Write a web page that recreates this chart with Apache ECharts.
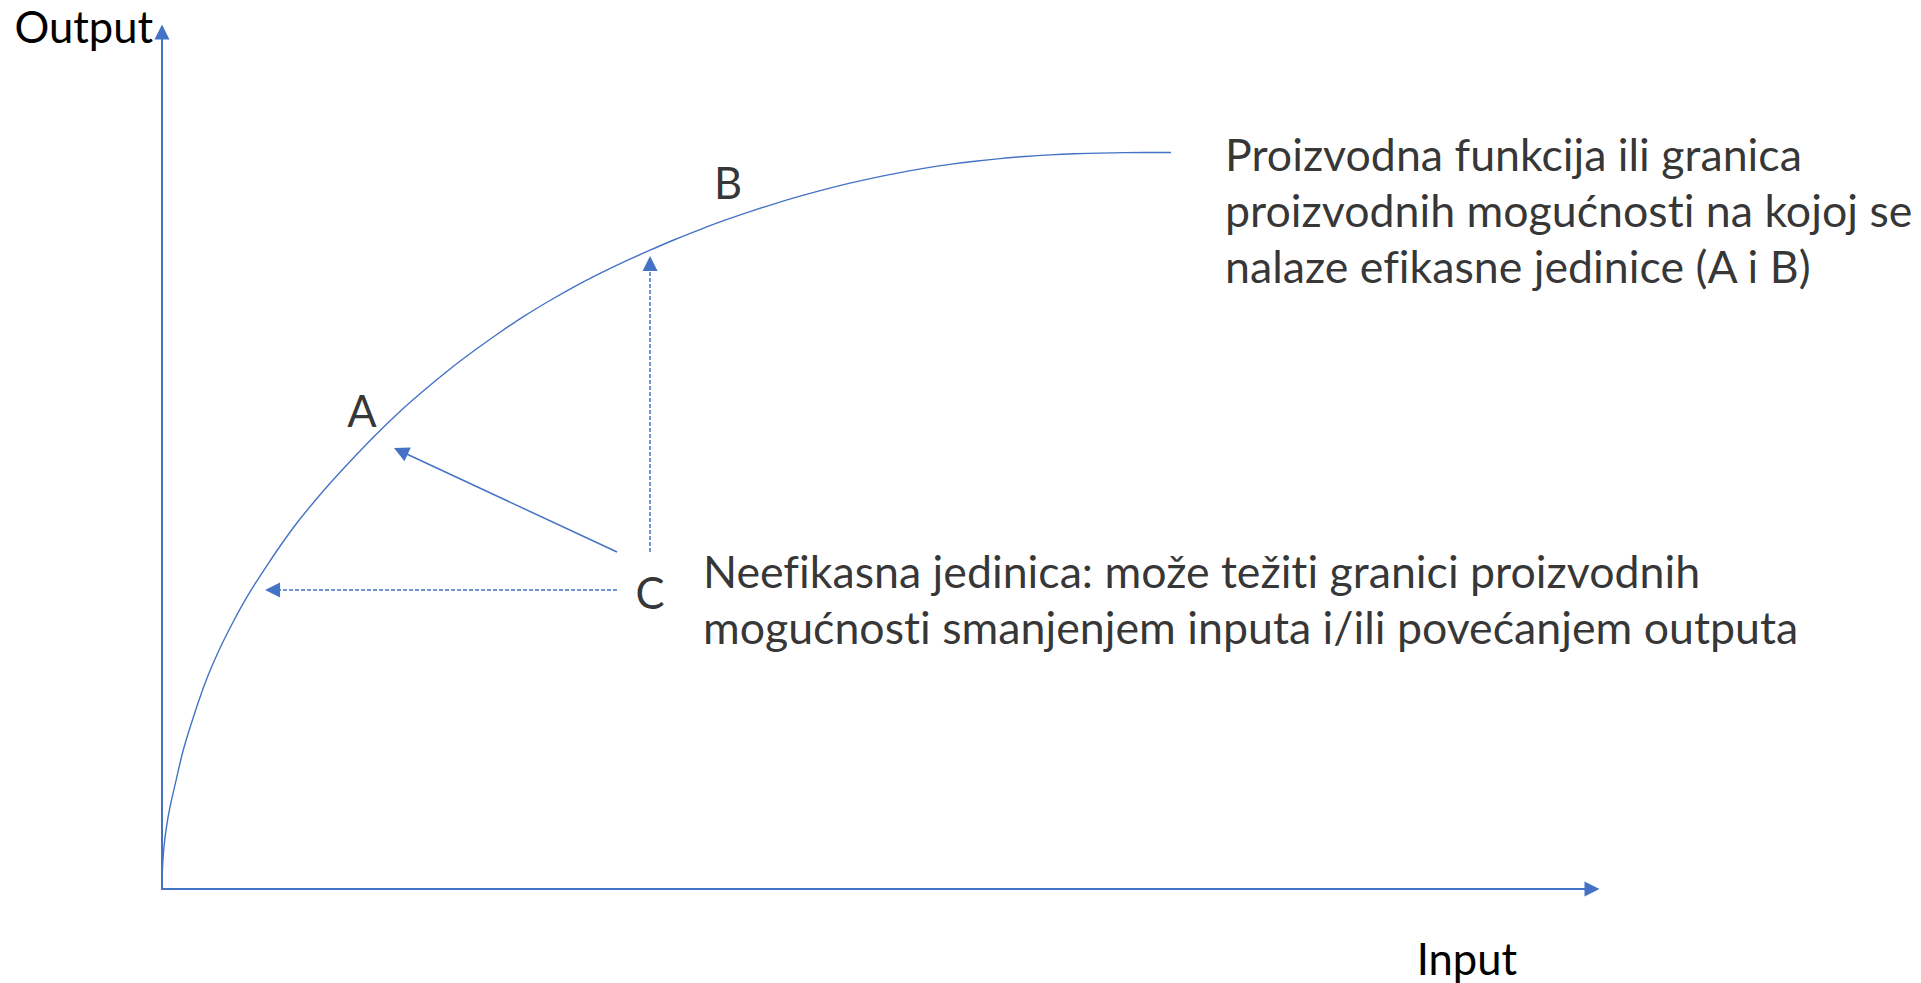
<!DOCTYPE html>
<html>
<head>
<meta charset="utf-8">
<script src="https://cdn.jsdelivr.net/npm/echarts@6/dist/echarts.min.js"></script>
<style>
html,body{margin:0;padding:0;background:#fff;}
#chart{width:1921px;height:983px;}
#chart text{font-variant-ligatures:none;}
</style>
</head>
<body>
<div id="chart"></div>
<script>
// ---- data (arbitrary units: input 0-100, output 0-100) ----
const frontierInput  = [0, 0.03, 0.13, 0.31, 0.56, 0.91, 1.47, 2.31, 3.15, 4.06, 4.90, 5.66, 6.50, 7.41, 8.46, 9.65, 11.40, 13.15, 14.90, 16.64, 18.39, 20.14, 21.89, 23.64, 25.38, 27.13, 28.88, 30.63, 32.38, 34.13, 35.87, 37.62, 39.37, 41.12, 42.87, 44.62, 46.36, 48.11, 49.86, 51.61, 53.36, 55.10, 56.85, 58.60, 60.35, 62.10, 63.85, 65.59, 67.34, 70.56];
const frontierOutput = [0, 2.22, 4.78, 7.23, 9.57, 12.14, 16.10, 20.65, 24.62, 28.12, 30.92, 33.26, 35.59, 37.92, 40.49, 43.17, 46.67, 49.88, 52.92, 55.72, 58.28, 60.68, 62.89, 64.97, 66.90, 68.67, 70.32, 71.83, 73.23, 74.54, 75.79, 76.95, 78.04, 79.04, 79.98, 80.84, 81.63, 82.36, 83.01, 83.59, 84.11, 84.55, 84.92, 85.23, 85.47, 85.66, 85.79, 85.87, 85.92, 85.94];

// movement of inefficient unit C towards the frontier
const moveToward   = [16.70, 51.08];   // solid arrow (both directions)
const inputCut     = [7.73, 34.89];    // dashed arrow: less input
const outputRaise  = [34.13, 72.99];   // dashed arrow: more output
const arrowFromSolid = [31.82, 39.32];
const arrowFromH     = [31.82, 34.89];
const arrowFromV     = [34.13, 39.32];

const pointNames = ['A', 'B', 'C'];
const pointX     = [13.99, 39.58, 34.13];
const pointY     = [55.89, 82.50, 34.66];

const noteTexts = [
  'Proizvodna funkcija ili granica\nproizvodnih mogućnosti na kojoj se\nnalaze efikasne jedinice (A i B)',
  'Neefikasna jedinica: može težiti granici proizvodnih\nmogućnosti smanjenjem inputa i/ili povećanjem outputa'
];
const noteX = [74.34, 37.83];
const noteY = [89.04, 40.37];

const axisNames = ['Input', 'Output'];

// ---- chart ----
const BLUE = '#4472C4';
const FONT = 'Lato, "Open Sans", sans-serif';
const chart = echarts.init(document.getElementById('chart'), null, { renderer: 'svg' });

const frontier = frontierInput.map((x, i) => [x, frontierOutput[i]]);

chart.setOption({
  animation: false,
  backgroundColor: '#ffffff',
  grid: { left: 162, right: 329, top: 32, bottom: 94, containLabel: false },
  xAxis: {
    type: 'value', min: 0, max: 100,
    name: axisNames[0], nameLocation: 'end', nameGap: -75,
    nameTextStyle: { fontFamily: FONT, fontSize: 43.5, color: '#000', align: 'right', verticalAlign: 'top', padding: [47, 0, 0, 0] },
    axisLine: { show: true, symbol: ['none', 'triangle'], symbolSize: [15, 15], lineStyle: { color: BLUE, width: 2 } },
    axisTick: { show: false }, axisLabel: { show: false }, splitLine: { show: false }
  },
  yAxis: {
    type: 'value', min: 0, max: 100,
    name: axisNames[1], nameLocation: 'end', nameGap: 6,
    nameTextStyle: { fontFamily: FONT, fontSize: 43.5, color: '#000', align: 'right', verticalAlign: 'middle', padding: [0, 9, 0, 0] },
    axisLine: { show: true, symbol: ['none', 'triangle'], symbolSize: [15, 15], lineStyle: { color: BLUE, width: 2 } },
    axisTick: { show: false }, axisLabel: { show: false }, splitLine: { show: false }
  },
  series: [
    {
      type: 'line', data: frontier, smooth: 0.3, showSymbol: false, symbol: 'none',
      lineStyle: { color: BLUE, width: 1.4 }, silent: true, z: 3
    },
    {
      type: 'lines', coordinateSystem: 'cartesian2d', silent: true,
      symbol: ['none', 'triangle'], symbolSize: 15,
      lineStyle: { color: BLUE, width: 1.5, type: 'solid', opacity: 1 },
      data: [{ coords: [arrowFromSolid, moveToward] }]
    },
    {
      type: 'lines', coordinateSystem: 'cartesian2d', silent: true,
      symbol: ['none', 'triangle'], symbolSize: 15,
      lineStyle: { color: BLUE, width: 1.5, type: [4, 2], opacity: 1 },
      data: [{ coords: [arrowFromH, inputCut] }, { coords: [arrowFromV, outputRaise] }]
    },
    {
      type: 'scatter', symbolSize: 0, silent: true,
      data: pointNames.map((n, i) => ({ name: n, value: [pointX[i], pointY[i]] })),
      label: { show: true, position: 'inside', formatter: '{b}', fontFamily: FONT, fontSize: 43.5, color: '#000', align: 'center', verticalAlign: 'middle' }
    },
    {
      type: 'scatter', symbolSize: 0, silent: true,
      data: noteTexts.map((t, i) => ({ name: t, value: [noteX[i], noteY[i]] })),
      label: { show: true, position: [0, 0], formatter: '{b}', fontFamily: FONT, fontSize: 44.7, lineHeight: 56, color: '#000', align: 'left', verticalAlign: 'top' }
    }
  ]
});
</script>
</body>
</html>
